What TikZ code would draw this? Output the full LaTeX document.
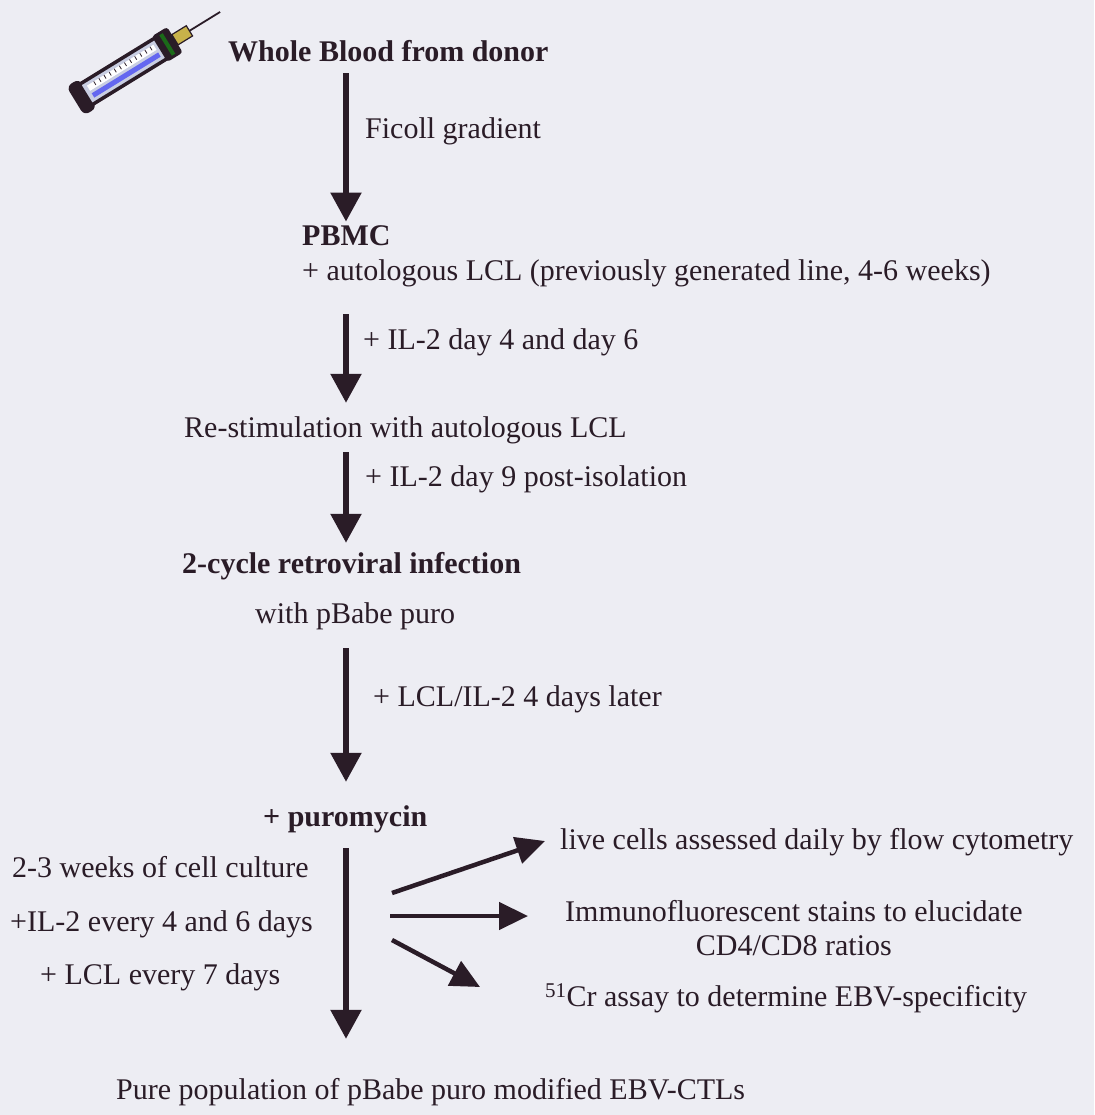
\documentclass[tikz,border=0pt]{standalone}
\usepackage{fontspec}
\setmainfont{Liberation Serif}
\usetikzlibrary{arrows.meta,positioning}
\definecolor{ink}{HTML}{2A1C27}
\definecolor{paper}{HTML}{EDEDF3}
\definecolor{barrel}{HTML}{C9CEE2}
\definecolor{brass}{HTML}{C8B24A}
\tikzset{
  txt/.style={anchor=west, inner sep=0pt, text height=21pt, text depth=7.5pt,
    text=ink, font=\fontsize{30}{33}\selectfont},
  headtxt/.style={txt, font=\fontsize{30}{33}\selectfont\bfseries},
  flow/.style={-{Triangle[width=30pt,length=29pt]}, line width=5.5pt, draw=ink},
  branch/.style={-{Triangle[width=27pt,length=29pt]}, line width=4.5pt, draw=ink}
}

\begin{document}
\begin{tikzpicture}[x=1pt,y=-1pt]
  \fill[paper] (0,0) rectangle (1094,1115);
  \useasboundingbox (0,0) rectangle (1094,1115);

  % syringe
  \begin{scope}[shift={(77,100)}, rotate=31.6]
    \fill[ink, rounded corners=6pt] (-2,-17) rectangle (13,17);
    \filldraw[fill=barrel, draw=ink, line width=3.5pt] (10,-12) rectangle (100,12);
    \fill[white] (16,-7) rectangle (94,-1);
    \fill[blue!50!barrel] (16,2) rectangle (94,7);
    \foreach \t in {24,30,...,90}
      \draw[ink, line width=0.8pt] (\t,-7) -- (\t,-3);
    \fill[ink, rounded corners=3pt] (97,-15) rectangle (115,15);
    \fill[green!35!ink] (104,-12) rectangle (108,12);
    \filldraw[fill=brass, draw=ink, line width=1.2pt] (115,-6) rectangle (132,6);
    \draw[ink, line width=1.8pt] (132,0) -- (168,0);
  \end{scope}

  \coordinate (spine) at (346,0);

  % main steps
  \node[headtxt] (blood) at (228,55) {Whole Blood from donor};
  \node[txt] (ficoll) at (365,132) {Ficoll gradient};
  \node[headtxt] (pbmc) at (302,239) {PBMC};
  \node[txt] (autolcl) at (302,274) {+ autologous LCL (previously generated line, 4-6 weeks)};
  \node[txt] (ilday) at (363,343) {+ IL-2 day 4 and day 6};
  \node[txt] (restim) at (184,431) {Re-stimulation with autologous LCL};
  \node[txt] (ilnine) at (365,480) {+ IL-2 day 9 post-isolation};
  \node[headtxt] (infect) at (182,567) {2-cycle retroviral infection};
  \node[txt] (pbabe) at (255,617) {with pBabe puro};
  \node[txt] (lclil) at (373,700) {+ LCL/IL-2 4 days later};
  \node[headtxt] (puro) at (263,820) {+ puromycin};
  \node[txt] (pure) at (116,1093) {Pure population of pBabe puro modified EBV-CTLs};

  % culture conditions
  \node[txt] (weeks) at (12,871) {2-3 weeks of cell culture};
  \node[txt] (ilevery) at (10,925) {+IL-2 every 4 and 6 days};
  \node[txt] (lclevery) at (40,978) {+ LCL every 7 days};

  % read-outs
  \node[txt] (live) at (560,843) {live cells assessed daily by flow cytometry};
  \node[txt] (immuno) at (565,915) {Immunofluorescent stains to elucidate};
  \node[txt, below=4.5pt of immuno] (ratios) {CD4/CD8 ratios};
  \node[txt] (chrom) at (545,1000) {\textsuperscript{51}Cr assay to determine EBV-specificity};

  \draw[flow, shorten <=4pt, shorten >=3pt] (blood.south -| spine) -- (pbmc.north -| spine);
  \draw[flow, shorten <=25.75pt, shorten >=13.75pt] (autolcl.south -| spine) -- (restim.north -| spine);
  \draw[flow, shorten <=6.75pt, shorten >=9.75pt] (restim.south -| spine) -- (infect.north -| spine);
  \draw[flow, shorten <=16.75pt, shorten >=23.75pt] (pbabe.south -| spine) -- (puro.north -| spine);
  \draw[flow, shorten <=13.75pt, shorten >=39.75pt] (puro.south -| spine) -- (pure.north -| spine);

  \coordinate (forka) at (392,893);
  \coordinate (forkb) at (390,916);
  \coordinate (forkc) at (392,940);
  \draw[branch] (forka) -- ([xshift=-15pt,yshift=2pt]live.west);
  \draw[branch] (forkb) -- ([xshift=-37pt,yshift=-1pt]immuno.west);
  \draw[branch] (forkc) -- ([xshift=-65pt,yshift=13pt]chrom.west);
\end{tikzpicture}
\end{document}
